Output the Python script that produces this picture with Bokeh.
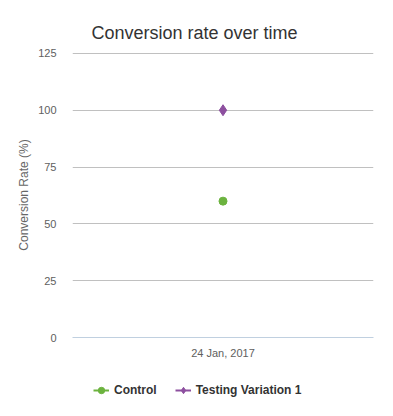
from bokeh.plotting import figure
from bokeh.layouts import column
from bokeh.models import ColumnDataSource, FactorRange, Range1d, Legend, LegendItem, FixedTicker
from bokeh.embed import file_html
from bokeh.resources import INLINE

dates = ["24 Jan, 2017"]
control = [60]
variation1 = [100]
y_ticks = [0, 25, 50, 75, 100, 125]
series_names = ["Control", "Testing Variation 1"]

src = ColumnDataSource(dict(x=dates, control=control, var1=variation1))

p = figure(width=377, height=368, output_backend="svg", toolbar_location=None,
           x_range=FactorRange(*dates), y_range=Range1d(0, 125.4),
           min_border_left=72, min_border_right=4, min_border_top=52, min_border_bottom=31,
           title="Conversion rate over time")
p.background_fill_color = "white"
p.border_fill_color = "white"
p.outline_line_color = None

p.title.text_font = "Liberation Sans"
p.title.text_font_size = "18px"
p.title.text_font_style = "normal"
p.title.text_color = "#333333"
p.title.align = "left"
p.title.standoff = 20
p.title.offset = 19

p.xgrid.grid_line_color = None
p.ygrid.grid_line_color = "#c0c0c0"
p.ygrid.grid_line_width = 1

p.yaxis.ticker = FixedTicker(ticks=y_ticks)
p.yaxis.axis_line_color = None
p.yaxis.major_tick_line_color = None
p.yaxis.minor_tick_line_color = None
p.yaxis.major_label_text_font = "Liberation Sans"
p.yaxis.major_label_text_font_size = "11px"
p.yaxis.major_label_text_color = "#606060"
p.yaxis.major_label_standoff = 10
p.yaxis.axis_label = "Conversion Rate (%)"
p.yaxis.axis_label_text_font = "Liberation Sans"
p.yaxis.axis_label_text_font_size = "12px"
p.yaxis.axis_label_text_font_style = "normal"
p.yaxis.axis_label_text_color = "#666666"
p.yaxis.axis_label_standoff = 4

p.xaxis.axis_line_color = "#c0d0e0"
p.xaxis.major_tick_line_color = None
p.xaxis.minor_tick_line_color = None
p.xaxis.major_label_text_font = "Liberation Sans"
p.xaxis.major_label_text_font_size = "11px"
p.xaxis.major_label_text_color = "#606060"
p.xaxis.major_label_standoff = 3

green = "#6cb33f"
purple = "#8d4f9f"

p.line("x", "control", source=src, color=green, line_width=2)
p.scatter("x", "control", source=src, marker="circle", size=8, color=green)
p.line("x", "var1", source=src, color=purple, line_width=2)
p.scatter("x", "var1", source=src, marker="diamond", size=11, color=purple)

# legend strip below the chart (hidden proxy renderers share the same data)
q = figure(width=377, height=44, output_backend="svg", toolbar_location=None,
           x_range=FactorRange(*dates), y_range=Range1d(0, 125.4),
           x_axis_location=None, y_axis_location=None,
           min_border_left=72, min_border_right=4, min_border_top=0, min_border_bottom=0)
q.grid.grid_line_color = None
q.outline_line_color = None
q.background_fill_color = "white"
q.border_fill_color = "white"
r1 = q.line("x", "control", source=src, color=green, line_width=2, visible=False)
s1 = q.scatter("x", "control", source=src, marker="circle", size=8, color=green, visible=False)
r2 = q.line("x", "var1", source=src, color=purple, line_width=2, visible=False)
s2 = q.scatter("x", "var1", source=src, marker="diamond", size=10, color=purple, visible=False)

legend = Legend(items=[LegendItem(label=series_names[0], renderers=[r1, s1]),
                       LegendItem(label=series_names[1], renderers=[r2, s2])],
                orientation="horizontal", location=(21, 12),
                label_text_font="Liberation Sans", label_text_font_size="12px",
                label_text_font_style="bold", label_text_color="#333333",
                border_line_color=None, background_fill_alpha=0,
                spacing=18, glyph_width=16, label_standoff=5, margin=0, padding=0)
q.add_layout(legend, "center")

layout = column(p, q, spacing=0)
open("out.html", "w").write(file_html(layout, INLINE))
